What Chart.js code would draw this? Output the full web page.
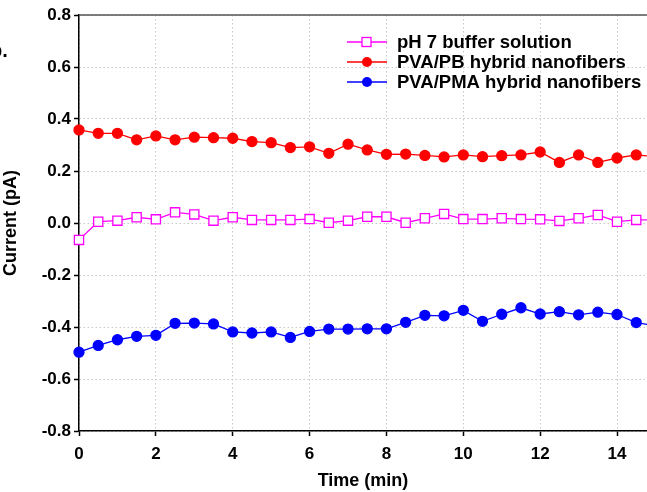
<!DOCTYPE html>
<html>
<head>
<meta charset="utf-8">
<script src="https://cdn.jsdelivr.net/npm/chart.js@4"></script>
<style>
  body { margin: 0; background: #fff; }
  #wrap { width: 647px; height: 492px; }
</style>
</head>
<body>
<div id="wrap"><canvas id="myChart" width="647" height="492"></canvas></div>
<script>
// time points (min)
const times = [0, 0.5, 1, 1.5, 2, 2.5, 3, 3.5, 4, 4.5, 5, 5.5, 6, 6.5, 7, 7.5,
  8, 8.5, 9, 9.5, 10, 10.5, 11, 11.5, 12, 12.5, 13, 13.5, 14, 14.5, 15];

const buffer = [-0.065, 0.005, 0.009, 0.022, 0.014, 0.041, 0.033, 0.009, 0.022, 0.012,
  0.012, 0.012, 0.015, 0.001, 0.009, 0.024, 0.024, 0.001, 0.018, 0.035,
  0.015, 0.015, 0.018, 0.015, 0.014, 0.008, 0.018, 0.031, 0.005, 0.012, 0.012];

const pvaPB = [0.358, 0.345, 0.345, 0.32, 0.335, 0.32, 0.33, 0.328, 0.326, 0.313,
  0.309, 0.29, 0.293, 0.268, 0.303, 0.281, 0.264, 0.265, 0.26, 0.254,
  0.262, 0.255, 0.259, 0.262, 0.273, 0.233, 0.262, 0.233, 0.25, 0.262, 0.255];

const pvaPMA = [-0.497, -0.471, -0.449, -0.436, -0.432, -0.386, -0.385, -0.388, -0.419, -0.423,
  -0.419, -0.44, -0.417, -0.408, -0.408, -0.407, -0.407, -0.382, -0.355, -0.357,
  -0.336, -0.378, -0.351, -0.326, -0.35, -0.341, -0.353, -0.343, -0.352, -0.383, -0.395];

const seriesNames = ['pH 7 buffer solution', 'PVA/PB hybrid nanofibers', 'PVA/PMA hybrid nanofibers'];
const yTicks = [-0.8, -0.6, -0.4, -0.2, 0.0, 0.2, 0.4, 0.6, 0.8];

const FONT = 'Liberation Sans, Arial, sans-serif';

function pts(vals) {
  return vals.map((v, i) => ({ x: times[i], y: v }));
}

// draws top frame line, custom legend and the cut-off panel letter
const extras = {
  id: 'extras',
  afterDraw(chart) {
    const ctx = chart.ctx;
    const a = chart.chartArea;
    ctx.save();
    ctx.strokeStyle = '#555';
    ctx.lineWidth = 1.5;
    ctx.beginPath();
    ctx.moveTo(a.left, a.top);
    ctx.lineTo(a.right, a.top);
    ctx.stroke();

    // legend
    const rows = [42, 62, 82];
    chart.data.datasets.forEach((ds, i) => {
      const y = rows[i];
      ctx.strokeStyle = ds.borderColor;
      ctx.lineWidth = 1.3;
      ctx.beginPath();
      ctx.moveTo(347, y);
      ctx.lineTo(387, y);
      ctx.stroke();
      if (ds.pointStyle === 'rect') {
        ctx.fillStyle = '#fff';
        ctx.fillRect(362, y - 4.5, 9, 9);
        ctx.strokeRect(362, y - 4.5, 9, 9);
      } else {
        ctx.fillStyle = ds.borderColor;
        ctx.beginPath();
        ctx.arc(367, y, 5, 0, Math.PI * 2);
        ctx.fill();
      }
      ctx.fillStyle = '#000';
      ctx.font = 'bold 18.5px ' + FONT;
      ctx.textAlign = 'left';
      ctx.textBaseline = 'middle';
      ctx.fillText(ds.label, 397, y + 1);
    });

    ctx.font = 'bold 20px ' + FONT;
    ctx.textAlign = 'left';
    ctx.textBaseline = 'alphabetic';
    ctx.fillStyle = '#000';
    ctx.fillText('b.', -10, 57);
    ctx.restore();
  }
};

const ctx = document.getElementById('myChart');

new Chart(ctx, {
  type: 'line',
  data: {
    datasets: [
      {
        label: seriesNames[0],
        data: pts(buffer),
        borderColor: '#ff00ff',
        backgroundColor: '#ffffff',
        borderWidth: 1.3,
        pointStyle: 'rect',
        pointRadius: 6.5,
        pointBorderWidth: 1.3,
        tension: 0,
        clip: false
      },
      {
        label: seriesNames[1],
        data: pts(pvaPB),
        borderColor: '#ff0000',
        backgroundColor: '#ff0000',
        borderWidth: 1.3,
        pointStyle: 'circle',
        pointRadius: 5,
        tension: 0,
        clip: false
      },
      {
        label: seriesNames[2],
        data: pts(pvaPMA),
        borderColor: '#0000ff',
        backgroundColor: '#0000ff',
        borderWidth: 1.3,
        pointStyle: 'circle',
        pointRadius: 5,
        tension: 0,
        clip: false
      }
    ]
  },
  options: {
    responsive: false,
    animation: false,
    devicePixelRatio: 1,
    layout: { autoPadding: false, padding: { top: 15, right: 0, left: 0, bottom: 0 } },
    plugins: {
      legend: { display: false },
      tooltip: { enabled: false }
    },
    scales: {
      x: {
        type: 'linear',
        min: 0,
        max: 14.78,
        afterFit(scale) {
          scale.height = 61;
          scale.paddingLeft = 0;
          scale.paddingRight = 0;
        },
        ticks: {
          stepSize: 2,
          includeBounds: false,
          color: '#000',
          font: { family: FONT, size: 17, weight: 'bold' },
          padding: 8,
          maxRotation: 0,
          callback: v => String(v)
        },
        grid: {
          color: '#c8c8c8',
          lineWidth: 1,
          tickLength: 5,
          tickColor: '#000',
          tickWidth: 1.5
        },
        border: { color: '#000', width: 1.5, dash: [1.5, 2.5] },
        title: {
          display: true,
          text: 'Time (min)',
          color: '#000',
          font: { family: FONT, size: 18, weight: 'bold' },
          padding: { top: 4, bottom: 0 }
        }
      },
      y: {
        type: 'linear',
        min: -0.8,
        max: 0.8,
        afterFit(scale) {
          scale.width = 79;
          scale.paddingTop = 0;
          scale.paddingBottom = 0;
        },
        afterBuildTicks(scale) { scale.ticks = yTicks.map(v => ({ value: v })); },
        ticks: {
          color: '#000',
          font: { family: FONT, size: 17, weight: 'bold' },
          padding: 3,
          callback: v => v.toFixed(1)
        },
        grid: {
          color: '#c8c8c8',
          lineWidth: 1,
          tickLength: 5,
          tickColor: '#000',
          tickWidth: 1.5
        },
        border: { color: '#000', width: 1.5, dash: [1.5, 2.5] },
        title: {
          display: true,
          text: 'Current (pA)',
          color: '#000',
          font: { family: FONT, size: 18, weight: 'bold' },
          padding: { top: 0, bottom: 0 }
        }
      }
    }
  },
  plugins: [extras]
});
</script>
</body>
</html>
